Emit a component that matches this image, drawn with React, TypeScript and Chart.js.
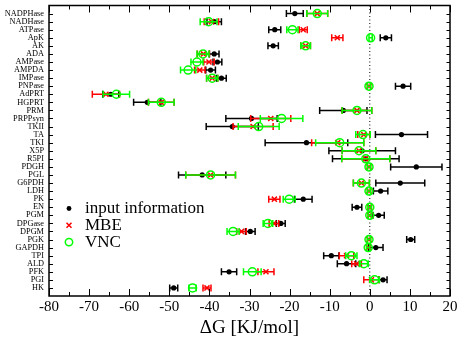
import React, { useEffect, useRef } from "react";
import { Chart, registerables } from "chart.js";

Chart.register(...registerables);

// categories from top to bottom
const categories = [
  "NADPHase", "NADHase", "ATPase", "ApK", "AK", "ADA", "AMPase", "AMPDA", "IMPase", "PNPase",
  "AdPRT", "HGPRT", "PRM", "PRPPsyn", "TKII", "TA", "TKI", "X5P", "R5PI", "PDGH",
  "PGL", "G6PDH", "LDH", "PK", "EN", "PGM", "DPGase", "DPGM", "PGK", "GAPDH",
  "TPI", "ALD", "PFK", "PGI", "HK",
];

const inputValues = [
  -18.7, -38.8, -23.7, 4.0, -24.1, -38.8, -38.0, -39.7, -37.0, 8.3,
  -64.6, -55.5, -6.6, -29.5, -34.3, 7.9, -15.8, -1.9, -1.0, 11.6,
  -41.8, 7.6, 2.7, -16.6, -3.2, 2.2, -22.2, -29.8, 10.2, 1.5,
  -9.6, -5.8, -35.1, 3.3, -48.9,
];
const inputErrors = [
  2.1, 1.8, 1.5, 1.4, 1.3, 1.2, 1.1, 1.2, 1.2, 1.9,
  2.0, 3.4, 5.9, 6.4, 6.5, 6.5, 10.3, 8.3, 8.3, 6.4,
  5.9, 6.1, 1.8, 2.2, 1.2, 1.4, 1.1, 1.2, 1.0, 1.8,
  1.9, 2.3, 1.9, 1.0, 1.0,
];

const mbeValues = [
  -13.1, -39.5, -16.6, -8.1, -16.0, -41.5, -40.1, -42.4, -39.3, -0.2,
  -65.8, -52.0, -3.2, -24.7, -29.1, -1.5, -8.0, -2.7, -1.0, -0.2,
  -39.7, -2.1, -0.2, -23.8, 0.0, 0.0, -23.9, -32.0, -0.2, -0.4,
  -5.8, -3.3, -25.9, 0.4, -40.6,
];
const mbeErrors = [
  2.6, 1.8, 1.0, 1.4, 1.2, 1.5, 1.3, 1.3, 1.4, 0.4,
  3.4, 3.2, 3.7, 5.0, 5.0, 1.5, 6.5, 4.2, 6.0, 0.4,
  6.2, 2.0, 0.4, 1.4, 0.4, 0.4, 1.2, 1.2, 0.4, 0.4,
  1.8, 1.2, 2.0, 1.9, 1.0,
];

const vncValues = [
  -13.1, -40.2, -19.3, 0.2, -16.0, -41.6, -43.1, -45.3, -39.3, -0.2,
  -63.2, -52.0, -3.2, -22.0, -27.7, -1.7, -7.5, -2.7, -1.0, -0.2,
  -39.7, -2.1, -0.2, -20.1, 0.0, 0.0, -25.4, -34.1, -0.2, -0.4,
  -4.6, -1.5, -29.3, 1.2, -44.2,
];
const vncErrors = [
  2.6, 2.1, 1.4, 0.4, 1.2, 1.5, 1.5, 1.9, 1.4, 0.4,
  3.3, 3.2, 3.7, 5.3, 5.1, 1.8, 6.0, 4.2, 6.0, 0.4,
  6.2, 2.0, 0.4, 1.5, 0.4, 0.4, 1.2, 1.5, 0.4, 0.4,
  1.4, 1.1, 2.2, 1.2, 0.9,
];

const xTickValues = [-80, -70, -60, -50, -40, -30, -20, -10, 0, 10, 20];

const W = 463;
const H = 340;
const SERIF = "'Liberation Serif', 'Times New Roman', serif";
const N = categories.length;

function toPoints(vals: number[], errs: number[]) {
  return vals.map((v, i) => ({ x: v, y: N - i, err: errs[i] }));
}

function drawSymbol(ctx: CanvasRenderingContext2D, style: string, x: number, y: number) {
  ctx.save();
  if (style === "dot") {
    ctx.fillStyle = "#000";
    ctx.beginPath();
    ctx.arc(x, y, 2.4, 0, Math.PI * 2);
    ctx.fill();
  } else if (style === "cross") {
    ctx.strokeStyle = "#ff0000";
    ctx.lineWidth = 1.5;
    const d = 2.5;
    ctx.beginPath();
    ctx.moveTo(x - d, y - d);
    ctx.lineTo(x + d, y + d);
    ctx.moveTo(x - d, y + d);
    ctx.lineTo(x + d, y - d);
    ctx.stroke();
  } else {
    ctx.strokeStyle = "#00ff00";
    ctx.lineWidth = 1.5;
    ctx.beginPath();
    ctx.arc(x, y, 3.7, 0, Math.PI * 2);
    ctx.stroke();
  }
  ctx.restore();
}

const errorBarPlugin = {
  id: "errorBars",
  beforeDatasetDraw(chart: any, args: any) {
    const ds = chart.data.datasets[args.index];
    const xs = chart.scales.x;
    const ys = chart.scales.y;
    const ctx = chart.ctx as CanvasRenderingContext2D;
    ctx.save();
    ctx.strokeStyle = ds.errorColor;
    ctx.lineWidth = 1.5;
    ds.data.forEach((p: any) => {
      if (!p.err) return;
      const y = ys.getPixelForValue(p.y);
      const x1 = xs.getPixelForValue(p.x - p.err);
      const x2 = xs.getPixelForValue(p.x + p.err);
      ctx.beginPath();
      ctx.moveTo(x1, y);
      ctx.lineTo(x2, y);
      ctx.moveTo(x1, y - 3.5);
      ctx.lineTo(x1, y + 3.5);
      ctx.moveTo(x2, y - 3.5);
      ctx.lineTo(x2, y + 3.5);
      ctx.stroke();
    });
    ctx.restore();
  },
};

const framePlugin = {
  id: "frame",
  beforeDatasetsDraw(chart: any) {
    const { ctx, chartArea } = chart;
    const xs = chart.scales.x;
    const x0 = xs.getPixelForValue(0);
    ctx.save();
    ctx.strokeStyle = "#000";
    ctx.lineWidth = 1;
    ctx.setLineDash([1, 2.5]);
    ctx.beginPath();
    ctx.moveTo(x0, chartArea.top);
    ctx.lineTo(x0, chartArea.bottom);
    ctx.stroke();
    ctx.restore();
  },
  afterDraw(chart: any) {
    const { ctx, chartArea } = chart;
    const xs = chart.scales.x;
    const ys = chart.scales.y;
    const { left, right, top, bottom } = chartArea;
    ctx.save();
    ctx.strokeStyle = "#000";
    ctx.lineWidth = 1.5;
    ctx.strokeRect(left, top, right - left, bottom - top);
    ctx.lineWidth = 1;
    ctx.beginPath();
    for (let v = -80; v <= 20; v += 5) {
      const x = Math.round(xs.getPixelForValue(v)) + 0.5;
      const len = v % 10 === 0 ? 7 : 4;
      ctx.moveTo(x, bottom);
      ctx.lineTo(x, bottom - len);
      ctx.moveTo(x, top);
      ctx.lineTo(x, top + len);
    }
    for (let i = 1; i <= N; i++) {
      const y = Math.round(ys.getPixelForValue(i)) + 0.5;
      ctx.moveTo(left, y);
      ctx.lineTo(left + 4, y);
      ctx.moveTo(right, y);
      ctx.lineTo(right - 3.5, y);
    }
    ctx.stroke();

    // legend
    const lx = left + 20;
    const ly = top + 203;
    const items = [
      { style: "dot", text: "input information" },
      { style: "cross", text: "MBE" },
      { style: "circle", text: "VNC" },
    ];
    ctx.font = `17px ${SERIF}`;
    ctx.fillStyle = "#000";
    ctx.textBaseline = "middle";
    ctx.textAlign = "left";
    items.forEach((it, k) => {
      const y = ly + k * 16.8;
      drawSymbol(ctx, it.style, lx, y);
      ctx.fillStyle = "#000";
      ctx.fillText(it.text, lx + 16, y + 0.5);
    });
    ctx.restore();
  },
};

export default function App() {
  const ref = useRef<HTMLCanvasElement | null>(null);

  useEffect(() => {
    if (!ref.current) return;
    const chart = new Chart(ref.current, {
      type: "scatter",
      data: {
        datasets: [
          {
            label: "input information",
            data: toPoints(inputValues, inputErrors),
            errorColor: "#000000",
            pointStyle: "circle",
            pointRadius: 2.6,
            pointBackgroundColor: "#000",
            pointBorderColor: "#000",
            pointBorderWidth: 0,
            order: 3,
          } as any,
          {
            label: "MBE",
            data: toPoints(mbeValues, mbeErrors),
            errorColor: "#ff0000",
            pointStyle: "crossRot",
            pointRadius: 3.6,
            pointBorderColor: "#ff0000",
            pointBackgroundColor: "#ff0000",
            pointBorderWidth: 1.5,
            order: 2,
          } as any,
          {
            label: "VNC",
            data: toPoints(vncValues, vncErrors),
            errorColor: "#00ff00",
            pointStyle: "circle",
            pointRadius: 4,
            pointBorderColor: "#00ff00",
            pointBackgroundColor: "rgba(0,0,0,0)",
            pointBorderWidth: 1.5,
            order: 1,
          } as any,
        ],
      },
      options: {
        responsive: false,
        animation: false,
        events: [],
        layout: { padding: { top: 4, right: 13, left: 0, bottom: 0 } },
        plugins: {
          legend: { display: false },
          tooltip: { enabled: false },
        },
        scales: {
          x: {
            type: "linear",
            min: -80,
            max: 20,
            afterBuildTicks: (s: any) => {
              s.ticks = xTickValues.map((v) => ({ value: v }));
            },
            afterFit: (s: any) => {
              s.height = 44;
            },
            grid: { display: false, drawTicks: false },
            border: { display: false },
            ticks: {
              color: "#000",
              font: { family: SERIF, size: 15 },
              padding: 2,
              maxRotation: 0,
              autoSkip: false,
            },
            title: {
              display: true,
              text: "ΔG [KJ/mol]",
              color: "#000",
              font: { family: SERIF, size: 19 },
              padding: { top: 0, bottom: 1 },
            },
          },
          y: {
            type: "linear",
            min: 0,
            max: N + 1,
            afterBuildTicks: (s: any) => {
              s.ticks = categories.map((_, i) => ({ value: N - i }));
            },
            afterFit: (s: any) => {
              s.width = 49;
              s.paddingTop = 0;
              s.paddingBottom = 0;
            },
            grid: { display: false, drawTicks: false },
            border: { display: false },
            ticks: {
              color: "#000",
              font: { family: SERIF, size: 8.3 },
              padding: 5,
              autoSkip: false,
              callback: (v: any) => {
                const idx = N - Number(v);
                return idx >= 0 && idx < N ? categories[idx] : "";
              },
            },
          },
        },
      } as any,
      plugins: [errorBarPlugin, framePlugin],
    });
    return () => chart.destroy();
  }, []);

  return (
    <div style={{ position: "fixed", left: 0, top: 0, width: W, height: H, background: "#fff" }}>
      <canvas ref={ref} width={W} height={H} style={{ width: W, height: H, display: "block" }} />
    </div>
  );
}
